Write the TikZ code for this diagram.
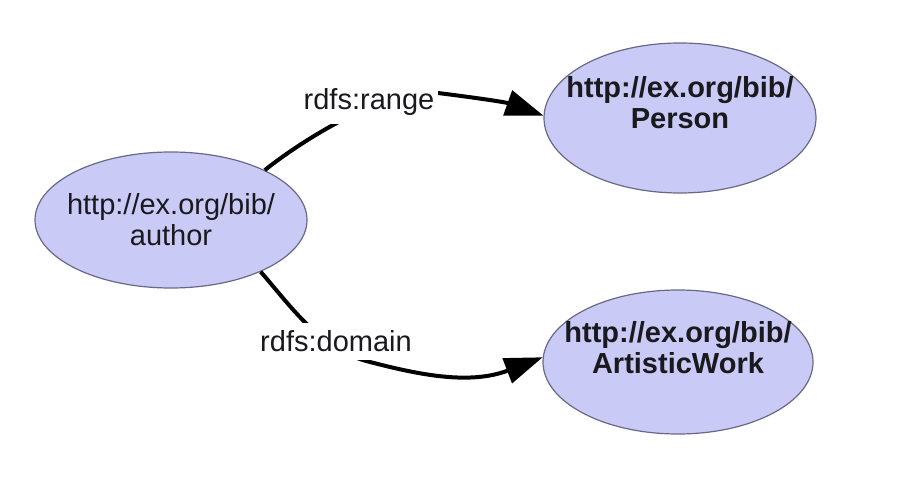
\documentclass[tikz,border=0pt]{standalone}
\usepackage{fontspec}
\setmainfont{Liberation Sans}
\usetikzlibrary{shapes.geometric,arrows.meta}
\definecolor{ellfill}{RGB}{202,202,246}
\definecolor{elldraw}{RGB}{105,105,135}
\definecolor{txt}{RGB}{25,25,30}
\begin{document}
\begin{tikzpicture}[x=1pt,y=-1pt,
  ell/.style={ellipse, draw=elldraw, line width=1.2pt, fill=ellfill, inner sep=0pt},
  lbl/.style={text=txt, align=center, font=\fontsize{29}{31}\selectfont},
  blbl/.style={text=txt, align=center, font=\fontsize{29}{31}\selectfont\bfseries},
  elabel/.style={fill=white, text=txt, inner xsep=4pt, inner ysep=7.5pt, font=\fontsize{29}{31}\selectfont},
  conn/.style={line width=4pt, -{Triangle[length=38pt,width=26pt]}}]
\fill[white] (0,0) rectangle (924,486);
\useasboundingbox (0,0) rectangle (924,486);

\node[ell, minimum width=272pt, minimum height=136pt] (author) at (171,220) {};
\node[lbl] (authortext) at (author.center) {http://ex.org/bib/\\author};

\node[ell, minimum width=272pt, minimum height=150pt] (person) at (680,118) {};
\node[blbl, yshift=15pt] (persontext) at (person.center) {http://ex.org/bib/\\Person};

\node[ell, minimum width=270pt, minimum height=144pt] (work) at (678,362) {};
\node[blbl, yshift=14pt] (worktext) at (work.center) {http://ex.org/bib/\\ArtisticWork};

\draw[conn] (author.28) .. controls (305,138) and (390,86) .. (438,93)
  .. controls (470,97) and (505,102) .. (person.179);
\draw[conn] (author.-30) .. controls (290,305) and (320,350) .. (370,362)
  .. controls (420,375) and (470,385) .. (work.178);

\node[elabel, anchor=base] (lrange) at (369,110) {rdfs:range};
\node[elabel, anchor=base] (ldomain) at (336,352) {rdfs:domain};
\end{tikzpicture}
\end{document}
